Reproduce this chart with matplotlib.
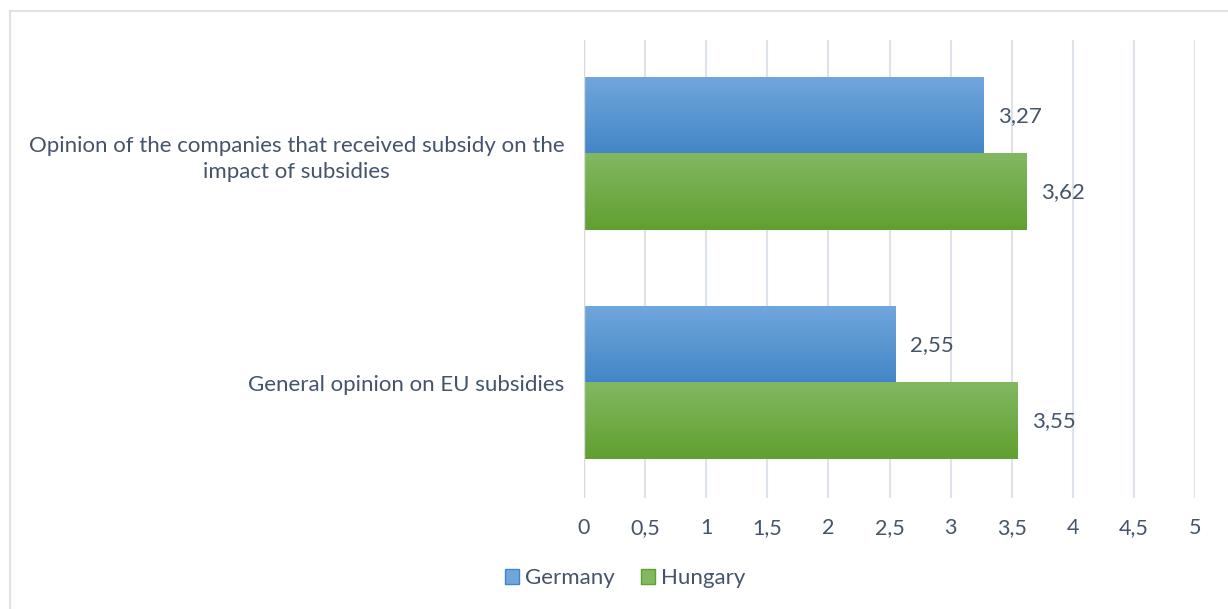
import matplotlib.pyplot as plt
import numpy as np
from matplotlib.colors import LinearSegmentedColormap
from matplotlib.patches import Patch
from matplotlib.ticker import FuncFormatter

plt.rcParams['font.family'] = ['Lato', 'DejaVu Sans']

categories = ["General opinion on EU subsidies",
              "Opinion of the companies that received subsidy on the\nimpact of subsidies"]
germany = [2.55, 3.27]
hungary = [3.55, 3.62]
series_names = ["Germany", "Hungary"]

text_color = "#44546A"
grid_color = "#DDE3EA"
germany_grad = ("#4386C7", "#70A6DC")  # bottom, top
hungary_grad = ("#60A030", "#82B862")

fig = plt.figure(figsize=(12.28, 6.09), dpi=100)
ax = fig.add_axes([584 / 1228, 1 - 497.5 / 609, (1195 - 584) / 1228, 458 / 609])

y = np.arange(len(categories))
h = 0.333


def gradient_bar(ax, x0, width, ybot, height, colors):
    cmap = LinearSegmentedColormap.from_list("g", list(colors))
    grad = np.linspace(0, 1, 100).reshape(-1, 1)
    ax.imshow(grad, cmap=cmap, aspect="auto", origin="lower",
              extent=(x0, x0 + width, ybot, ybot + height), zorder=2)


for i in range(len(categories)):
    gradient_bar(ax, 0, germany[i], y[i], h, germany_grad)
    gradient_bar(ax, 0, hungary[i], y[i] - h, h, hungary_grad)
    ax.text(germany[i] + 0.12, y[i] + h / 2, f"{germany[i]:.2f}".replace(".", ","),
            va="center", ha="left", fontsize=16, color=text_color)
    ax.text(hungary[i] + 0.12, y[i] - h / 2, f"{hungary[i]:.2f}".replace(".", ","),
            va="center", ha="left", fontsize=16, color=text_color)

ax.set_xlim(0, 5)
ax.set_ylim(-0.5, 1.5)
ax.set_xticks(np.arange(0, 5.01, 0.5))
ax.xaxis.set_major_formatter(FuncFormatter(lambda v, p: f"{v:g}".replace(".", ",")))
ax.set_yticks(y)
ax.set_yticklabels(categories, multialignment="center", linespacing=1.35)
ax.tick_params(axis="both", length=0, labelcolor=text_color)
ax.tick_params(axis="x", pad=15, labelsize=15.5)
ax.tick_params(axis="y", pad=14, labelsize=16)
ax.grid(axis="x", color=grid_color, linewidth=1.5, zorder=0)
ax.set_axisbelow(True)
for s in ax.spines.values():
    s.set_visible(False)
ax.axvline(0, color="#D9D9D9", linewidth=1, zorder=3)

handles = [Patch(facecolor=germany_grad[1], edgecolor=germany_grad[0]),
           Patch(facecolor=hungary_grad[1], edgecolor=hungary_grad[0])]
fig.legend(handles, series_names, loc="center", bbox_to_anchor=(625 / 1228, 1 - 578 / 609),
           ncol=2, frameon=False, fontsize=16, labelcolor=text_color,
           handlelength=0.65, handleheight=0.65, handletextpad=0.25, columnspacing=1.2)

# light frame on top and left
fig.add_artist(plt.Line2D([10 / 1228, 1], [1 - 11 / 609, 1 - 11 / 609], color=grid_color,
                          linewidth=1.5, transform=fig.transFigure))
fig.add_artist(plt.Line2D([10 / 1228, 10 / 1228], [0, 1 - 11 / 609], color=grid_color,
                          linewidth=1.5, transform=fig.transFigure))

fig.savefig("out.png", dpi=100)
